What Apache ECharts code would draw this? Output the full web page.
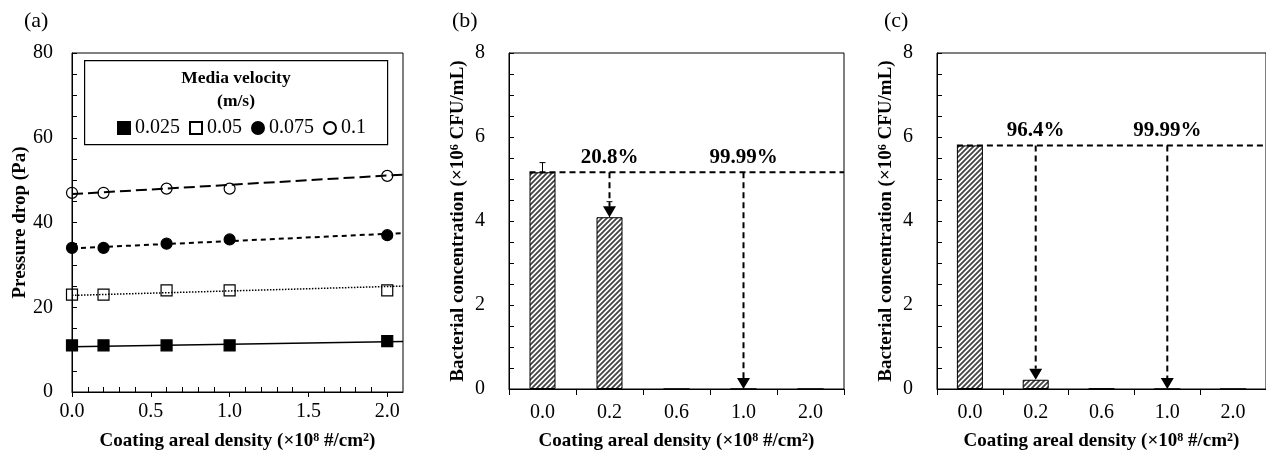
<!DOCTYPE html>
<html>
<head>
<meta charset="utf-8">
<script src="https://cdn.jsdelivr.net/npm/echarts@6/dist/echarts.min.js"></script>
<style>
  body { margin: 0; background: #fff; }
  #chart { width: 1266px; height: 456px; }
</style>
</head>
<body>
<div id="chart"></div>
<script>
    // (a) 压降 pressure drop vs coating density
    const coatDensity = [0, 0.2, 0.6, 1.0, 2.0];
    const velocityNames = ['0.025', '0.05', '0.075', '0.1'];
    const drop025 = [11, 11, 11, 11, 12];
    const drop05 = [23, 23, 24, 24, 24];
    const drop075 = [34, 34, 35, 36, 37];
    const drop1 = [47, 47, 48, 48, 51];
    // trend lines, values read at x = 0 and x = 2.1
    const trendX = [0, 2.1];
    const trend025 = [10.7, 11.9];
    const trend05 = [22.8, 25.0];
    const trend075 = [33.9, 37.5];
    const trend1 = [46.7, 51.3];

    // (b)(c) bacterial concentration
    const barCategories = ['0.0', '0.2', '0.6', '1.0', '2.0'];
    const concB = [5.16, 4.09, 0, 0, 0];
    const errB = [0.23, 0.37, 0, 0, 0];
    const concC = [5.8, 0.22, 0.01, 0, 0];
    const errC = [0, 0, 0, 0, 0];
    const baseB = 5.16;
    const baseC = 5.8;
    const arrowCatsB = [1, 3];          // index in barCategories
    const arrowEndB = [4.09, 0];
    const pctB = ['20.8%', '99.99%'];
    const arrowCatsC = [1, 3];
    const arrowEndC = [0.22, 0];
    const pctC = ['96.4%', '99.99%'];

    const FONT = 'Liberation Serif';
    const BAR_W = 26;

    // hatch pattern for the bars
    function hatch() {
        const c = document.createElement('canvas');
        c.width = 5; c.height = 5;
        const g = c.getContext('2d');
        g.fillStyle = '#fff';
        g.fillRect(0, 0, 5, 5);
        g.strokeStyle = '#444';
        g.lineWidth = 1.8;
        g.beginPath();
        g.moveTo(-1, 6); g.lineTo(6, -1);
        g.moveTo(-1, 1); g.lineTo(1, -1);
        g.moveTo(4, 6); g.lineTo(6, 4);
        g.stroke();
        return c;
    }
    const HATCH = { image: hatch(), repeat: 'repeat' };

    const nameStyle = {
        fontFamily: FONT, fontWeight: 'bold', fontSize: 19, color: '#000',
        rich: { sup: { fontFamily: FONT, fontWeight: 'bold', fontSize: 12, color: '#000', verticalAlign: 'top' } }
    };
    const labelStyle = { fontFamily: FONT, fontSize: 20, color: '#000' };
    const axisLine = { show: true, lineStyle: { color: '#000', width: 1 } };

    function errorBar(params, api) {
        const e = api.value(2);
        if (!e) return { type: 'group', children: [] };
        const lo = api.coord([api.value(0), api.value(1)]);
        const hi = api.coord([api.value(0), api.value(1) + e]);
        return {
            type: 'group',
            children: [
                { type: 'line', shape: { x1: lo[0], y1: lo[1], x2: hi[0], y2: hi[1] }, style: { stroke: '#000', lineWidth: 1 } },
                { type: 'line', shape: { x1: hi[0] - 3, y1: hi[1], x2: hi[0] + 3, y2: hi[1] }, style: { stroke: '#000', lineWidth: 1 } }
            ]
        };
    }

    // dashed reference level: from the left edge of the first bar to the right of the plot
    function baseLine(params, api) {
        const v = api.value(0);
        const band = api.size([1, 0])[0];
        const p0 = api.coord([0, v]);
        const p1 = api.coord([barCategories.length - 1, v]);
        return {
            type: 'line',
            shape: { x1: p0[0] - BAR_W / 2, y1: p0[1], x2: p1[0] + band / 2, y2: p1[1] },
            style: { stroke: '#000', lineWidth: 2, lineDash: [6, 4] }
        };
    }

    // dashed down-arrow from the reference level with the reduction label on top
    function arrowRenderer(pcts) {
        return function (params, api) {
            const top = api.coord([api.value(0), api.value(1)]);
            const tip = api.coord([api.value(0), api.value(2)]);
            const w = 6.5, h = 11;
            return {
                type: 'group',
                children: [
                    { type: 'line', shape: { x1: top[0], y1: top[1], x2: tip[0], y2: tip[1] - h }, style: { stroke: '#000', lineWidth: 2, lineDash: [6, 4] } },
                    { type: 'polygon', shape: { points: [[tip[0] - w, tip[1] - h], [tip[0] + w, tip[1] - h], [tip[0], tip[1]]] }, style: { fill: '#000' } },
                    { type: 'text', x: top[0], y: top[1] - 4, style: { text: pcts[params.dataIndex], align: 'center', verticalAlign: 'bottom', font: 'bold 21px "Liberation Serif"', fill: '#000' } }
                ]
            };
        };
    }

    function barAxes(idx) {
        return {
            x: {
                type: 'category', gridIndex: idx, data: barCategories,
                axisLine: axisLine,
                axisTick: { show: true, inside: false, length: 6, lineStyle: { color: '#000' } },
                axisLabel: Object.assign({ margin: 14 }, labelStyle),
                name: 'Coating areal density (×10{sup|8} #/cm{sup|2})',
                nameLocation: 'middle', nameGap: 43, nameTextStyle: nameStyle,
                splitLine: { show: false }
            },
            y: {
                type: 'value', gridIndex: idx, min: 0, max: 8, interval: 2,
                axisLine: axisLine,
                axisTick: { show: true, inside: true, length: 5, lineStyle: { color: '#000' } },
                minorTick: { show: true, splitNumber: 4, length: 5, lineStyle: { color: '#000' } },
                axisLabel: Object.assign({ margin: 24 }, labelStyle),
                splitLine: { show: false },
                name: 'Bacterial concentration (×10{sup|6} CFU/mL)',
                nameLocation: 'middle', nameGap: 41, nameTextStyle: nameStyle
            }
        };
    }

    // xIdx / yIdx: axis indexes of the panel
    function barSeries(xIdx, yIdx, conc, err, base, cats, ends, pcts) {
        return [{
            type: 'bar', xAxisIndex: xIdx, yAxisIndex: yIdx,
            data: conc, barWidth: BAR_W,
            itemStyle: { color: HATCH, borderColor: '#000', borderWidth: 1 }
        }, {
            type: 'custom', xAxisIndex: xIdx, yAxisIndex: yIdx,
            renderItem: errorBar, z: 3,
            data: conc.map((v, i) => [i, v, err[i]])
        }, {
            type: 'custom', xAxisIndex: xIdx, yAxisIndex: yIdx,
            renderItem: baseLine, z: 4, silent: true,
            data: [[base]]
        }, {
            type: 'custom', xAxisIndex: xIdx, yAxisIndex: yIdx,
            renderItem: arrowRenderer(pcts), z: 5, silent: true,
            data: cats.map((c, i) => [c, base, ends[i]])
        }];
    }

    function scatter(name, values, symbol, filled) {
        return {
            name: name, type: 'scatter', xAxisIndex: 0, yAxisIndex: 0,
            symbol: symbol, symbolSize: 11, z: 3,
            itemStyle: { color: filled ? '#000' : 'rgba(255,255,255,0)', borderColor: '#000', borderWidth: 1.2, opacity: 1 },
            data: values.map((v, i) => [coatDensity[i], v])
        };
    }

    function trend(values, type, width) {
        return {
            type: 'line', xAxisIndex: 0, yAxisIndex: 0, symbol: 'none', z: 4,
            lineStyle: { color: '#000', type: type, width: width },
            data: values.map((v, i) => [trendX[i], v]),
            silent: true
        };
    }

    const axB = barAxes(1);
    const axC = barAxes(2);

    const chart = echarts.init(document.getElementById('chart'));
    chart.setOption({
        animation: false,
        backgroundColor: '#fff',
        textStyle: { fontFamily: FONT },
        grid: [
            { left: 72, top: 53, width: 331, height: 341, show: true, borderColor: '#000', borderWidth: 1 },
            { left: 509, top: 53, width: 335, height: 340, show: true, borderColor: '#000', borderWidth: 1 },
            { left: 937, top: 53, width: 339, height: 340, show: true, borderColor: '#000', borderWidth: 1 }
        ],
        legend: {
            data: velocityNames, left: 112, top: 113, orient: 'horizontal',
            itemWidth: 12, itemHeight: 12, itemGap: 9, z: 10,
            textStyle: { fontFamily: FONT, fontSize: 20, color: '#000' },
            selectedMode: false
        },
        graphic: [
            { type: 'text', left: 24, top: 10, style: { text: '(a)', font: '22px "Liberation Serif"', fill: '#000' } },
            { type: 'text', left: 452, top: 10, style: { text: '(b)', font: '22px "Liberation Serif"', fill: '#000' } },
            { type: 'text', left: 884, top: 10, style: { text: '(c)', font: '22px "Liberation Serif"', fill: '#000' } },
            { type: 'rect', left: 84, top: 60, z: 5, shape: { width: 303, height: 84 }, style: { fill: '#fff', stroke: '#000', lineWidth: 1.2 } },
            { type: 'text', x: 236, y: 78, z: 6, style: { text: 'Media velocity', font: 'bold 17.5px "Liberation Serif"', fill: '#000', align: 'center', verticalAlign: 'middle' } },
            { type: 'text', x: 236, y: 101, z: 6, style: { text: '(m/s)', font: 'bold 17.5px "Liberation Serif"', fill: '#000', align: 'center', verticalAlign: 'middle' } }
        ],
        xAxis: [
            {
                type: 'value', gridIndex: 0, min: 0, max: 2.1, interval: 0.5,
                axisLine: axisLine,
                axisTick: { show: true, inside: false, length: 5, lineStyle: { color: '#000' } },
                axisLabel: Object.assign({ margin: 10, showMaxLabel: false, formatter: v => v.toFixed(1) }, labelStyle),
                splitLine: { show: false },
                name: 'Coating areal density (×10{sup|8} #/cm{sup|2})',
                nameLocation: 'middle', nameGap: 40, nameTextStyle: nameStyle
            },
            {
                // minor ticks drawn inside
                type: 'value', gridIndex: 0, min: 0, max: 2.1, interval: 0.5, position: 'bottom',
                axisLine: { show: false },
                axisTick: { show: false, inside: true },
                minorTick: { show: true, splitNumber: 5, length: 5, lineStyle: { color: '#000' } },
                axisLabel: { show: false },
                splitLine: { show: false }
            },
            axB.x, axC.x
        ],
        yAxis: [
            {
                type: 'value', gridIndex: 0, min: 0, max: 80, interval: 20,
                axisLine: axisLine,
                axisTick: { show: true, inside: true, length: 5, lineStyle: { color: '#000' } },
                minorTick: { show: true, splitNumber: 4, length: 5, lineStyle: { color: '#000' } },
                axisLabel: Object.assign({ margin: 19 }, labelStyle),
                splitLine: { show: false },
                name: 'Pressure drop (Pa)',
                nameLocation: 'middle', nameGap: 42, nameTextStyle: nameStyle
            },
            axB.y, axC.y
        ],
        series: [
            trend(trend025, 'solid', 1.5),
            trend(trend05, [1.5, 1.5], 1.5),
            trend(trend075, [5, 4], 2),
            trend(trend1, [11, 5], 2),
            scatter(velocityNames[0], drop025, 'rect', true),
            scatter(velocityNames[1], drop05, 'rect', false),
            scatter(velocityNames[2], drop075, 'circle', true),
            scatter(velocityNames[3], drop1, 'circle', false)
        ].concat(
            barSeries(2, 1, concB, errB, baseB, arrowCatsB, arrowEndB, pctB),
            barSeries(3, 2, concC, errC, baseC, arrowCatsC, arrowEndC, pctC)
        )
    });
</script>
</body>
</html>
